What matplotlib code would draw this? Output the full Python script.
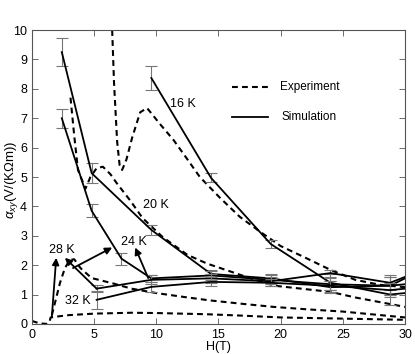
import numpy as np
import matplotlib
matplotlib.use('Agg')
import matplotlib.pyplot as plt

plt.rcParams['font.family'] = ['Liberation Sans', 'DejaVu Sans']
plt.rcParams['mathtext.fontset'] = 'custom'
plt.rcParams['mathtext.rm'] = 'Liberation Sans'
plt.rcParams['mathtext.it'] = 'Liberation Sans:italic'

# experiment curves (dashed)
exp16_h = [6.45, 6.6, 6.85, 7.05, 7.25, 7.6, 8.05, 8.7, 9.25, 10.3, 11.4, 12.5, 13.5, 15.1, 16.7, 18.3, 20, 22, 24, 26, 28, 30]
exp16_v = [10.0, 8.2, 6.2, 5.4, 5.24, 5.6, 6.33, 7.2, 7.35, 6.8, 6.25, 5.6, 5.0, 4.3, 3.65, 3.15, 2.65, 2.25, 1.84, 1.5, 1.33, 1.25]
exp20_h = [3.1, 3.4, 3.7, 4.3, 4.7, 5.2, 5.7, 6.3, 6.8, 7.9, 8.9, 10.5, 12.5, 14.1, 16.2, 17.5, 19.5, 24, 26, 30]
exp20_v = [7.7, 6.4, 5.24, 4.6, 5.0, 5.3, 5.35, 5.1, 4.8, 4.2, 3.6, 2.96, 2.35, 2.05, 1.75, 1.56, 1.3, 1.09, 0.9, 0.58]
exp28_h = [1.6, 1.9, 2.25, 2.65, 3.05, 3.4, 3.9, 4.8, 6.5, 8, 10, 12, 14.3, 17, 19.4, 22, 25, 28, 30]
exp28_v = [0.3, 0.8, 1.39, 1.9, 2.18, 2.2, 1.9, 1.56, 1.38, 1.2, 1.05, 0.93, 0.8, 0.68, 0.58, 0.5, 0.42, 0.3, 0.22]
exp32_h = [0, 0.6, 1.2, 1.4, 1.5, 2.0, 3, 5, 8, 10, 14, 17, 20, 25, 30]
exp32_v = [0.1, 0.02, 0.0, 0.05, 0.22, 0.25, 0.3, 0.35, 0.38, 0.37, 0.33, 0.28, 0.22, 0.18, 0.14]

# simulation curves (solid) with error bars
sim16_h = [9.6, 14.4, 19.2, 24, 28.8, 30]
sim16_v = [8.37, 4.97, 2.72, 1.4, 1.0, 1.05]
sim16_e = [0.4, 0.15, 0.12, 0.3, 0.35, 0]
sim20_h = [2.4, 4.8, 9.6, 14.4, 19.2, 24, 28.8, 30]
sim20_v = [9.25, 5.13, 3.2, 1.7, 1.55, 1.25, 1.3, 1.55]
sim20_e = [0.48, 0.35, 0.17, 0.15, 0.15, 0.2, 0.3, 0]
sim24_h = [2.4, 4.8, 7.2, 9.6, 14.4, 19.2, 24, 28.8, 30]
sim24_v = [7.0, 3.85, 2.22, 1.55, 1.65, 1.5, 1.35, 1.3, 1.35]
sim24_e = [0.33, 0.22, 0.2, 0.12, 0.15, 0.15, 0.2, 0.3, 0]
sim28_h = [5.2, 9.6, 14.4, 19.2, 24, 28.8, 30]
sim28_v = [1.2, 1.5, 1.55, 1.45, 1.73, 1.4, 1.6]
sim28_e = [0.12, 0.15, 0.15, 0.15, 0.12, 0.25, 0]
sim32_h = [5.2, 9.6, 14.4, 19.2, 24, 28.8, 30]
sim32_v = [0.82, 1.26, 1.43, 1.4, 1.3, 1.15, 1.2]
sim32_e = [0.3, 0.17, 0.15, 0.12, 0.15, 0.25, 0]

labels = ['16 K', '20 K', '24 K', '28 K', '32 K']
label_pos = [(12.1, 7.5), (10.0, 4.05), (8.2, 2.8), (2.4, 2.52), (3.7, 0.78)]
# arrows: (tail, head)
arrows = [((1.6, 0.25), (1.95, 2.25)), ((5.2, 1.2), (2.65, 2.25)),
          ((3.3, 1.9), (6.45, 2.6)), ((9.35, 1.56), (8.3, 2.6))]

fig = plt.figure(figsize=(4.15, 3.54), dpi=100)
ax = fig.add_axes([0.077, 0.085, 0.899, 0.83])

for h, v in [(exp16_h, exp16_v), (exp20_h, exp20_v), (exp28_h, exp28_v), (exp32_h, exp32_v)]:
    ax.plot(h, v, color='black', lw=1.5, dashes=(2.8, 2.0))

sims = [(sim16_h, sim16_v, sim16_e), (sim20_h, sim20_v, sim20_e), (sim24_h, sim24_v, sim24_e),
        (sim28_h, sim28_v, sim28_e), (sim32_h, sim32_v, sim32_e)]
for h, v, e in sims:
    h, v, e = np.array(h), np.array(v), np.array(e)
    m = e > 0
    ax.errorbar(h[m], v[m], yerr=e[m], fmt='none', ecolor='#777777', elinewidth=0.8, capsize=4, capthick=0.8)
    ax.plot(h, v, color='black', lw=1.3)

for lab, (x, y) in zip(labels, label_pos):
    ax.text(x, y, lab, fontsize=9, ha='center', va='center')

for (t, hd) in arrows:
    ax.annotate('', xy=hd, xytext=t,
                arrowprops=dict(arrowstyle='-|>', color='black', lw=1.3, mutation_scale=10, shrinkA=0, shrinkB=0))

# legend
ax.plot([0.536, 0.633], [0.805, 0.805], transform=ax.transAxes, color='black', lw=1.5, dashes=(2.8, 2.0))
ax.plot([0.536, 0.633], [0.705, 0.705], transform=ax.transAxes, color='black', lw=1.3)
ax.text(0.665, 0.805, 'Experiment', transform=ax.transAxes, fontsize=8.5, va='center')
ax.text(0.67, 0.705, 'Simulation', transform=ax.transAxes, fontsize=8.5, va='center')

ax.set_xlim(0, 30)
ax.set_ylim(0, 10)
ax.set_xticks(range(0, 31, 5))
ax.set_yticks(range(0, 11))
ax.tick_params(direction='in', top=True, right=True, length=4, labelsize=9, width=0.6, color='#555555')
for s in ax.spines.values():
    s.set_color('#555555')
    s.set_linewidth(0.8)
ax.set_xlabel('H(T)', fontsize=9, labelpad=0)
ax.set_ylabel(r'$\alpha_{xy}$(V/(K$\Omega$m))', fontsize=9.5)
ax.yaxis.set_label_coords(-0.033, 0.49)

fig.savefig('out.png', dpi=100)
